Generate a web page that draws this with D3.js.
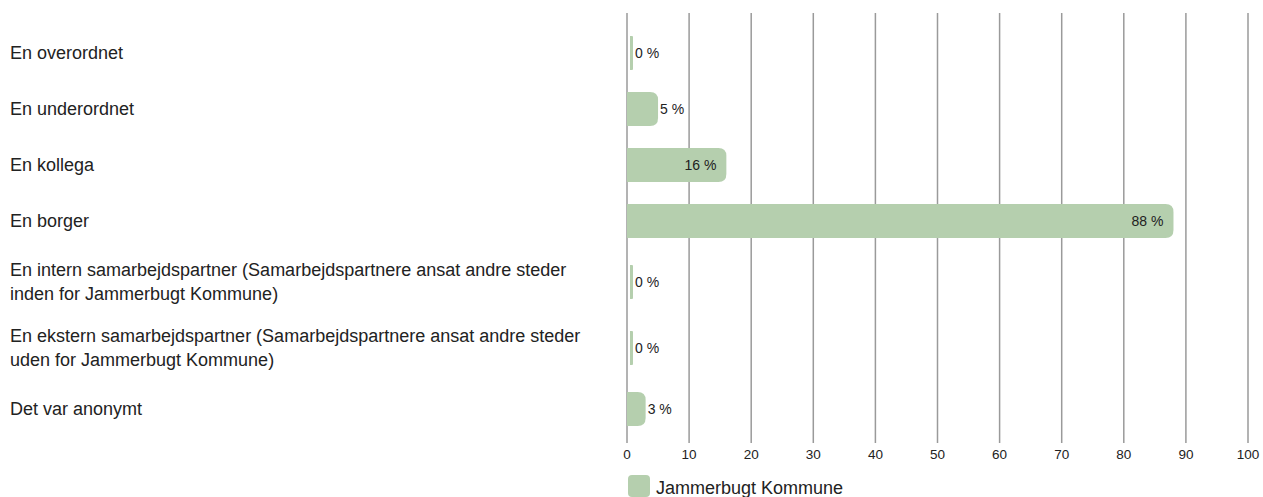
<!DOCTYPE html>
<html>
<head>
<meta charset="utf-8">
<script src="https://cdn.jsdelivr.net/npm/d3@7"></script>
<style>
  body { margin: 0; background: #fff; }
  svg { display: block; font-family: "Liberation Sans", Arial, sans-serif; }
</style>
</head>
<body>
<div id="canvas"></div>
<script>
// answer categories (each entry = lines of the label)
var categories = [
  ['En overordnet'],
  ['En underordnet'],
  ['En kollega'],
  ['En borger'],
  ['En intern samarbejdspartner (Samarbejdspartnere ansat andre steder', 'inden for Jammerbugt Kommune)'],
  ['En ekstern samarbejdspartner (Samarbejdspartnere ansat andre steder', 'uden for Jammerbugt Kommune)'],
  ['Det var anonymt']
];
var values = [0, 5, 16, 88, 0, 0, 3];
var xTicks = [0, 10, 20, 30, 40, 50, 60, 70, 80, 90, 100];
var seriesName = 'Jammerbugt Kommune';

function barChart () {
  var width = 1263, height = 497;
  var barColor = '#b5cfae';
  var gridColor = '#9a9a9a';
  var textColor = '#222';

  var x0 = 627, x1 = 1248;
  var plotTop = 25;
  var rowSingle = 56, rowDouble = 66;
  var barH = 34;

  var x = d3.scaleLinear().domain([0, 100]).range([x0, x1]);

  // row layout: two-line labels get a taller row
  var rows = [];
  var yy = plotTop;
  categories.forEach(function (c, i) {
    var h = c.length > 1 ? rowDouble : rowSingle;
    rows.push({ lines: c, value: values[i], y: yy, h: h, cy: yy + h / 2 });
    yy += h;
  });
  var plotBottom = yy;

  var svg = d3.select('#canvas').append('svg')
    .attr('width', width)
    .attr('height', height);

  // vertical grid lines
  svg.append('g').attr('class', 'grid').selectAll('line')
    .data(xTicks)
    .enter().append('line')
    .attr('x1', d => x(d)).attr('x2', d => x(d))
    .attr('y1', 13).attr('y2', plotBottom + 6)
    .attr('stroke', gridColor)
    .attr('stroke-width', 1.5);

  // tick labels
  svg.append('g').selectAll('text')
    .data(xTicks)
    .enter().append('text')
    .attr('x', d => x(d))
    .attr('y', plotBottom + 22)
    .attr('text-anchor', 'middle')
    .style('font-size', '13.5px')
    .attr('fill', textColor)
    .text(d => d);

  // category labels
  svg.append('g').selectAll('text')
    .data(rows)
    .enter().append('text')
    .attr('x', 10)
    .attr('fill', textColor)
    .style('font-size', '18px')
    .each(function (d) {
      var lh = 24;
      var startY = d.cy - (d.lines.length - 1) * lh / 2 + 5.5;
      d3.select(this).selectAll('tspan')
        .data(d.lines)
        .enter().append('tspan')
        .attr('x', 10)
        .attr('y', (l, j) => startY + j * lh)
        .text(l => l);
    });

  // bars with rounded right end
  var r = 8;
  function barPath(d) {
    var xs = x(0), xe = x(d.value), yt = d.cy - barH / 2, yb = d.cy + barH / 2;
    var rr = Math.min(r, (xe - xs));
    if (xe - xs < 4) {
      // zero value: thin stub
      xs = x(0) + 3; xe = xs + 3; rr = 1;
    }
    return 'M' + xs + ',' + yt + 'H' + (xe - rr) + 'Q' + xe + ',' + yt + ' ' + xe + ',' + (yt + rr) +
      'V' + (yb - rr) + 'Q' + xe + ',' + yb + ' ' + (xe - rr) + ',' + yb + 'H' + xs + 'Z';
  }
  svg.append('g').selectAll('path')
    .data(rows)
    .enter().append('path')
    .attr('d', barPath)
    .attr('fill', barColor);

  // value labels: inside for wide bars, outside for short ones
  svg.append('g').selectAll('text')
    .data(rows)
    .enter().append('text')
    .attr('x', function (d) {
      var w = x(d.value) - x(0);
      if (w > 60) return x(d.value) - 10;
      return Math.max(x(d.value), x(0) + 6) + 2;
    })
    .attr('text-anchor', d => (x(d.value) - x(0) > 60 ? 'end' : 'start'))
    .attr('y', d => d.cy + 5)
    .attr('fill', textColor)
    .style('font-size', '14px')
    .text(d => d.value + ' %');

  // legend
  var leg = svg.append('g');
  leg.append('rect')
    .attr('x', x(0) + 1).attr('y', 475)
    .attr('width', 22).attr('height', 22)
    .attr('rx', 4)
    .attr('fill', barColor);
  leg.append('text')
    .attr('x', x(0) + 29).attr('y', 494)
    .attr('fill', textColor)
    .style('font-size', '18px')
    .text(seriesName);
}
barChart();
</script>
</body>
</html>
